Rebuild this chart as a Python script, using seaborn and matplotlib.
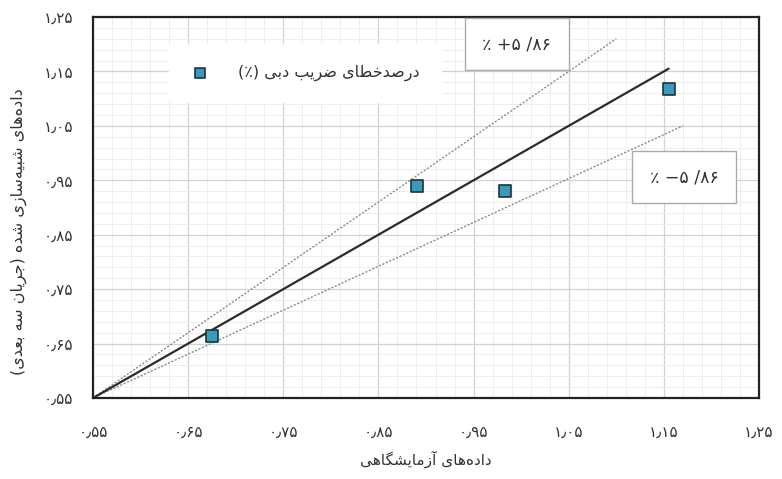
import numpy as np
import pandas as pd
import matplotlib
matplotlib.use("Agg")
import matplotlib.pyplot as plt
import seaborn as sns

# ---------------- data ----------------
exp_vals = [0.675, 0.891, 0.983, 1.155]      # experimental (x)
sim_vals = [0.663, 0.940, 0.930, 1.118]      # simulated (y)

ideal_x = [0.55, 1.155]
ideal_y = [0.55, 1.155]
upper_x = [0.55, 1.10]
upper_y = [0.55, 1.21]
lower_x = [0.55, 1.17]
lower_y = [0.55, 1.05]

tick_vals = [0.55, 0.65, 0.75, 0.85, 0.95, 1.05, 1.15, 1.25]
tick_labels = ["۰٫۵۵", "۰٫۶۵", "۰٫۷۵", "۰٫۸۵", "۰٫۹۵", "۱٫۰۵", "۱٫۱۵", "۱٫۲۵"]

x_title = "داده\u200cهای آزمایشگاهی"
y_title = "داده\u200cهای شبیه\u200cسازی شده (جریان سه بعدی)"
legend_label = "درصدخطای ضریب دبی (٪)"
upper_text = "٪ +۵ /۸۶"
lower_text = "٪ −۵ /۸۶"

# ---------------- minimal Persian shaping ----------------
FORMS = {
    '\u0627': ('\uFE8D', '\uFE8E', None, None),
    '\u0622': ('\uFE81', '\uFE82', None, None),
    '\u0628': ('\uFE8F', '\uFE90', '\uFE91', '\uFE92'),
    '\u062A': ('\uFE95', '\uFE96', '\uFE97', '\uFE98'),
    '\u062C': ('\uFE9D', '\uFE9E', '\uFE9F', '\uFEA0'),
    '\u062E': ('\uFEA5', '\uFEA6', '\uFEA7', '\uFEA8'),
    '\u062F': ('\uFEA9', '\uFEAA', None, None),
    '\u0631': ('\uFEAD', '\uFEAE', None, None),
    '\u0632': ('\uFEAF', '\uFEB0', None, None),
    '\u0633': ('\uFEB1', '\uFEB2', '\uFEB3', '\uFEB4'),
    '\u0634': ('\uFEB5', '\uFEB6', '\uFEB7', '\uFEB8'),
    '\u0635': ('\uFEB9', '\uFEBA', '\uFEBB', '\uFEBC'),
    '\u0636': ('\uFEBD', '\uFEBE', '\uFEBF', '\uFEC0'),
    '\u0637': ('\uFEC1', '\uFEC2', '\uFEC3', '\uFEC4'),
    '\u0639': ('\uFEC9', '\uFECA', '\uFECB', '\uFECC'),
    '\u0644': ('\uFEDD', '\uFEDE', '\uFEDF', '\uFEE0'),
    '\u0645': ('\uFEE1', '\uFEE2', '\uFEE3', '\uFEE4'),
    '\u0646': ('\uFEE5', '\uFEE6', '\uFEE7', '\uFEE8'),
    '\u0647': ('\uFEE9', '\uFEEA', '\uFEEB', '\uFEEC'),
    '\u0648': ('\uFEED', '\uFEEE', None, None),
    '\u06CC': ('\uFBFC', '\uFBFD', '\uFBFE', '\uFBFF'),
    '\u06AF': ('\uFB92', '\uFB93', '\uFB94', '\uFB95'),
    '\u06A9': ('\uFB8E', '\uFB8F', '\uFB90', '\uFB91'),
}


def shape(text):
    chars = list(text)

    def dual(c):
        return c in FORMS and FORMS[c][2] is not None

    out = []
    for i, c in enumerate(chars):
        if c == '\u200c':
            continue
        if c not in FORMS:
            out.append(c)
            continue
        prev = chars[i - 1] if i > 0 else None
        nxt = chars[i + 1] if i + 1 < len(chars) else None
        jp = prev is not None and dual(prev)
        jn = dual(c) and nxt is not None and nxt in FORMS
        iso, fin, ini, med = FORMS[c]
        if jp and jn:
            out.append(med)
        elif jp:
            out.append(fin)
        elif jn:
            out.append(ini)
        else:
            out.append(iso)
    s = ''.join(out)[::-1]
    return s.translate(str.maketrans('()', ')('))


# ---------------- plot ----------------
sns.set_theme(style="white")
plt.rcParams['font.family'] = ['DejaVu Sans']

fig = plt.figure(figsize=(7.82, 4.79), dpi=100)
ax = fig.add_axes([93 / 782, 1 - 398 / 479, 666 / 782, 381 / 479])

ax.set_xlim(0.55, 1.25)
ax.set_ylim(0.55, 1.25)

ax.set_xticks(tick_vals)
ax.set_yticks(tick_vals)
ax.set_xticklabels(tick_labels)
ax.set_yticklabels(tick_labels)
ax.set_xticks(np.arange(0.55, 1.2501, 0.02), minor=True)
ax.set_yticks(np.arange(0.55, 1.2501, 0.02), minor=True)

ax.grid(which='major', color='#d2d2d2', linewidth=0.9)
ax.grid(which='minor', color='#eeeeee', linewidth=0.7)
ax.set_axisbelow(True)

ax.tick_params(which='major', direction='in', length=4, width=1.2,
               color='#222222', labelsize=11, labelcolor='#333333')
ax.tick_params(axis='x', which='major', pad=19)
ax.tick_params(axis='y', which='major', pad=14)
ax.tick_params(which='minor', length=0)

for sp in ax.spines.values():
    sp.set_visible(True)
    sp.set_color('#222222')
    sp.set_linewidth(1.6)

df_ideal = pd.DataFrame({'x': ideal_x, 'y': ideal_y})
df_up = pd.DataFrame({'x': upper_x, 'y': upper_y})
df_lo = pd.DataFrame({'x': lower_x, 'y': lower_y})

sns.lineplot(data=df_up, x='x', y='y', ax=ax, color='#8a8a8a',
             linewidth=1.0, linestyle=(0, (1.5, 1.2)), legend=False)
sns.lineplot(data=df_lo, x='x', y='y', ax=ax, color='#8a8a8a',
             linewidth=1.0, linestyle=(0, (1.5, 1.2)), legend=False)
sns.lineplot(data=df_ideal, x='x', y='y', ax=ax, color='#2b2b2b',
             linewidth=1.6, legend=False)

df_pts = pd.DataFrame({'x': exp_vals, 'y': sim_vals})
sns.scatterplot(data=df_pts, x='x', y='y', ax=ax, marker='s', s=72,
                color='#3b9ab8', edgecolor='#1b3340', linewidth=1.2,
                label=shape(legend_label), zorder=5)

leg = ax.legend(loc='center', frameon=True,
                fontsize=11.5, handletextpad=1.8, borderpad=1.3,
                borderaxespad=0, markerscale=0.85, handlelength=1.2)
leg.get_frame().set_facecolor('white')
leg.get_frame().set_edgecolor('white')
leg.get_frame().set_alpha(1.0)
leg.set_bbox_to_anchor(((305 - 93) / 666, (398 - 73) / 381), transform=ax.transAxes)
for t in leg.get_texts():
    t.set_color('#333333')

ax.set_xlabel(shape(x_title), fontsize=11, color='#333333', labelpad=8)
ax.set_ylabel(shape(y_title), fontsize=11.5, color='#333333')
ax.yaxis.set_label_coords((27 - 93) / 666, (398 - 232) / 381)

box = dict(boxstyle='square,pad=1.0', facecolor='white', edgecolor='#aaaaaa',
           linewidth=1.0)
ax.text((517 - 93) / 666 * 0.7 + 0.55, 1.25 - (44 - 17) / 381 * 0.7,
        upper_text, ha='center', va='center', fontsize=12.5, color='#333333',
        bbox=box, zorder=6)
ax.text((684 - 93) / 666 * 0.7 + 0.55, 1.25 - (177 - 17) / 381 * 0.7,
        lower_text, ha='center', va='center', fontsize=12.5, color='#333333',
        bbox=box, zorder=6)

fig.savefig('out.png', dpi=100)
